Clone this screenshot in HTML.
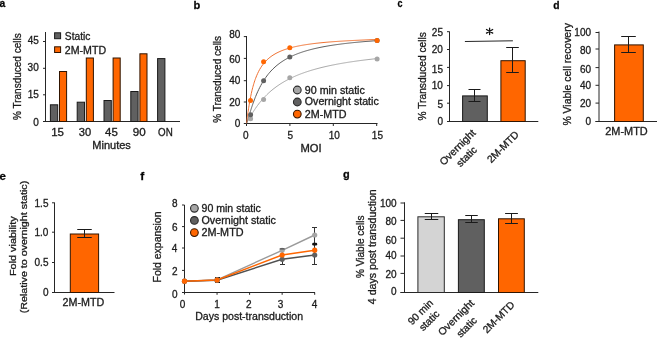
<!DOCTYPE html>
<html><head><meta charset="utf-8"><style>
html,body{margin:0;padding:0;background:#fff;}
svg{display:block;font-family:"Liberation Sans", sans-serif;will-change:transform;color:#1c1c1c;}
text{stroke:currentColor;}
</style></head><body>
<svg width="659" height="338" viewBox="0 0 659 338">
<rect width="659" height="338" fill="#fff"/>
<g stroke-width="0.3">
<text x="-0.55" y="6.70" font-size="11" font-weight="bold" fill="#000" textLength="5.74" lengthAdjust="spacingAndGlyphs">a</text>
<text x="193.62" y="8.90" font-size="11" font-weight="bold" fill="#000" textLength="6.79" lengthAdjust="spacingAndGlyphs">b</text>
<text x="397.40" y="6.90" font-size="11" font-weight="bold" fill="#000" textLength="5.02" lengthAdjust="spacingAndGlyphs">c</text>
<text x="553.23" y="8.90" font-size="11" font-weight="bold" fill="#000" textLength="6.30" lengthAdjust="spacingAndGlyphs">d</text>
<text x="-0.40" y="179.90" font-size="11" font-weight="bold" fill="#000" textLength="6.45" lengthAdjust="spacingAndGlyphs">e</text>
<text x="140.25" y="180.00" font-size="11.6" font-weight="bold" fill="#000" textLength="3.98" lengthAdjust="spacingAndGlyphs">f</text>
<text x="342.90" y="178.00" font-size="11" font-weight="bold" fill="#000" textLength="6.68" lengthAdjust="spacingAndGlyphs">g</text>
<line x1="45.50" y1="32.00" x2="45.50" y2="122.00" stroke="#262626" stroke-width="1"/>
<line x1="43.00" y1="41.50" x2="45.50" y2="41.50" stroke="#262626" stroke-width="1"/>
<text x="27.65" y="44.10" font-size="10" fill="#1c1c1c">45</text>
<line x1="43.00" y1="68.30" x2="45.50" y2="68.30" stroke="#262626" stroke-width="1"/>
<text x="27.62" y="70.60" font-size="10" fill="#1c1c1c">30</text>
<line x1="43.00" y1="94.80" x2="45.50" y2="94.80" stroke="#262626" stroke-width="1"/>
<text x="27.65" y="97.50" font-size="10" fill="#1c1c1c">15</text>
<line x1="43.00" y1="121.50" x2="45.50" y2="121.50" stroke="#262626" stroke-width="1"/>
<text x="33.18" y="126.00" font-size="10" fill="#1c1c1c">0</text>
<line x1="43.00" y1="121.50" x2="180.00" y2="121.50" stroke="#262626" stroke-width="1"/>
<rect x="50.40" y="104.80" width="7.30" height="16.70" fill="#606060" stroke="#1a1a1a" stroke-width="1"/>
<rect x="59.50" y="71.50" width="7.10" height="50.00" fill="#ff6600" stroke="#301400" stroke-width="1"/>
<rect x="77.20" y="102.20" width="7.30" height="19.30" fill="#606060" stroke="#1a1a1a" stroke-width="1"/>
<rect x="86.30" y="58.00" width="7.10" height="63.50" fill="#ff6600" stroke="#301400" stroke-width="1"/>
<rect x="104.00" y="100.50" width="7.30" height="21.00" fill="#606060" stroke="#1a1a1a" stroke-width="1"/>
<rect x="113.10" y="58.00" width="7.10" height="63.50" fill="#ff6600" stroke="#301400" stroke-width="1"/>
<rect x="130.80" y="91.50" width="7.30" height="30.00" fill="#606060" stroke="#1a1a1a" stroke-width="1"/>
<rect x="139.90" y="53.80" width="7.10" height="67.70" fill="#ff6600" stroke="#301400" stroke-width="1"/>
<rect x="157.60" y="58.60" width="7.30" height="62.90" fill="#606060" stroke="#1a1a1a" stroke-width="1"/>
<rect x="54.60" y="32.80" width="6.00" height="5.90" fill="#606060" stroke="#1a1a1a" stroke-width="1"/>
<rect x="54.60" y="46.80" width="6.00" height="5.70" fill="#ff6600" stroke="#301400" stroke-width="1"/>
<text x="64.89" y="39.70" font-size="10" fill="#1c1c1c" textLength="25.53" lengthAdjust="spacingAndGlyphs">Static</text>
<text x="64.82" y="53.70" font-size="10" fill="#1c1c1c" textLength="41.34" lengthAdjust="spacingAndGlyphs">2M-MTD</text>
<text x="51.18" y="135.60" font-size="10" fill="#1c1c1c" textLength="12.76" lengthAdjust="spacingAndGlyphs">15</text>
<text x="78.73" y="135.60" font-size="10" fill="#1c1c1c" textLength="12.36" lengthAdjust="spacingAndGlyphs">30</text>
<text x="105.09" y="135.60" font-size="10" fill="#1c1c1c" textLength="12.74" lengthAdjust="spacingAndGlyphs">45</text>
<text x="132.81" y="135.60" font-size="10" fill="#1c1c1c" textLength="12.90" lengthAdjust="spacingAndGlyphs">90</text>
<text x="158.09" y="135.60" font-size="10" fill="#1c1c1c" textLength="14.66" lengthAdjust="spacingAndGlyphs">ON</text>
<text x="92.25" y="148.70" font-size="10" fill="#1c1c1c" textLength="38.60" lengthAdjust="spacingAndGlyphs">Minutes</text>
<text transform="translate(20.80,119.65) rotate(-90)" x="-0.35" y="0" font-size="10" fill="#1c1c1c" textLength="86.71" lengthAdjust="spacingAndGlyphs">% Transduced cells</text>
<line x1="246.50" y1="36.00" x2="246.50" y2="124.00" stroke="#262626" stroke-width="1"/>
<line x1="243.80" y1="123.50" x2="246.50" y2="123.50" stroke="#262626" stroke-width="1"/>
<text x="234.78" y="126.70" font-size="10" fill="#1c1c1c">0</text>
<line x1="243.80" y1="102.00" x2="246.50" y2="102.00" stroke="#262626" stroke-width="1"/>
<text x="229.22" y="105.80" font-size="10" fill="#1c1c1c">20</text>
<line x1="243.80" y1="80.70" x2="246.50" y2="80.70" stroke="#262626" stroke-width="1"/>
<text x="229.22" y="84.10" font-size="10" fill="#1c1c1c">40</text>
<line x1="243.80" y1="58.40" x2="246.50" y2="58.40" stroke="#262626" stroke-width="1"/>
<text x="229.22" y="62.50" font-size="10" fill="#1c1c1c">60</text>
<line x1="243.80" y1="36.60" x2="246.50" y2="36.60" stroke="#262626" stroke-width="1"/>
<text x="229.22" y="37.80" font-size="10" fill="#1c1c1c">80</text>
<line x1="244.00" y1="123.50" x2="377.50" y2="123.50" stroke="#262626" stroke-width="1"/>
<line x1="246.50" y1="123.50" x2="246.50" y2="126.00" stroke="#262626" stroke-width="1"/>
<text x="245.90" y="139.20" font-size="10" fill="#1c1c1c" text-anchor="middle">0</text>
<line x1="289.90" y1="123.50" x2="289.90" y2="126.00" stroke="#262626" stroke-width="1"/>
<text x="290.40" y="139.20" font-size="10" fill="#1c1c1c" text-anchor="middle">5</text>
<line x1="333.30" y1="123.50" x2="333.30" y2="126.00" stroke="#262626" stroke-width="1"/>
<text x="334.30" y="139.20" font-size="10" fill="#1c1c1c" text-anchor="middle">10</text>
<line x1="376.70" y1="123.50" x2="376.70" y2="126.00" stroke="#262626" stroke-width="1"/>
<text x="377.40" y="139.20" font-size="10" fill="#1c1c1c" text-anchor="middle">15</text>
<text x="300.43" y="152.00" font-size="10" fill="#1c1c1c" textLength="21.15" lengthAdjust="spacingAndGlyphs">MOI</text>
<text transform="translate(221.00,122.45) rotate(-90)" x="-0.36" y="0" font-size="10" fill="#1c1c1c" textLength="86.91" lengthAdjust="spacingAndGlyphs">% Transduced cells</text>
<path d="M246.50,123.20 L246.51,123.19 L246.52,123.17 L246.55,123.13 L246.59,123.07 L246.64,123.00 L246.71,122.90 L246.78,122.78 L246.87,122.64 L246.96,122.47 L247.07,122.29 L247.19,122.08 L247.32,121.86 L247.46,121.61 L247.62,121.34 L247.78,121.04 L247.96,120.73 L248.15,120.40 L248.35,120.04 L248.56,119.67 L248.78,119.27 L249.02,118.86 L249.26,118.43 L249.52,117.97 L249.79,117.51 L250.07,117.02 L250.36,116.52 L250.66,116.00 L250.97,115.47 L251.30,114.92 L251.64,114.36 L251.98,113.78 L252.34,113.20 L252.71,112.60 L253.10,111.99 L253.49,111.37 L253.90,110.74 L254.31,110.10 L254.74,109.46 L255.18,108.80 L255.61,108.17 L256.64,106.71 L257.66,105.31 L258.68,103.96 L259.70,102.65 L260.72,101.39 L261.74,100.18 L262.76,99.01 L263.78,97.88 L264.80,96.79 L265.83,95.74 L266.85,94.72 L267.87,93.74 L268.89,92.79 L269.91,91.87 L270.93,90.98 L271.95,90.12 L272.97,89.29 L274.00,88.49 L275.02,87.71 L276.04,86.95 L277.06,86.22 L278.08,85.51 L279.10,84.82 L280.12,84.15 L281.14,83.50 L282.16,82.86 L283.19,82.25 L284.21,81.65 L285.23,81.07 L286.25,80.51 L287.27,79.96 L288.29,79.43 L289.31,78.91 L290.33,78.40 L291.36,77.91 L292.38,77.42 L293.40,76.96 L294.42,76.50 L295.44,76.05 L296.46,75.62 L297.48,75.19 L298.50,74.78 L299.52,74.38 L300.55,73.98 L301.57,73.60 L302.59,73.22 L303.61,72.85 L304.63,72.49 L305.65,72.14 L306.67,71.80 L307.69,71.46 L308.72,71.13 L309.74,70.81 L310.76,70.49 L311.78,70.18 L312.80,69.88 L313.82,69.59 L314.84,69.30 L315.86,69.01 L316.88,68.73 L317.91,68.46 L318.93,68.19 L319.95,67.93 L320.97,67.67 L321.99,67.42 L323.01,67.17 L324.03,66.93 L325.05,66.69 L326.08,66.46 L327.10,66.23 L328.12,66.01 L329.14,65.78 L330.16,65.57 L331.18,65.35 L332.20,65.14 L333.22,64.94 L334.24,64.74 L335.27,64.54 L336.29,64.34 L337.31,64.15 L338.33,63.96 L339.35,63.77 L340.37,63.59 L341.39,63.41 L342.41,63.24 L343.44,63.06 L344.46,62.89 L345.48,62.72 L346.50,62.56 L347.52,62.39 L348.54,62.23 L349.56,62.07 L350.58,61.92 L351.60,61.77 L352.63,61.61 L353.65,61.47 L354.67,61.32 L355.69,61.18 L356.71,61.03 L357.73,60.89 L358.75,60.76 L359.77,60.62 L360.80,60.48 L361.82,60.35 L362.84,60.22 L363.86,60.09 L364.88,59.97 L365.90,59.84 L366.92,59.72 L367.94,59.60 L368.96,59.48 L369.99,59.36 L371.01,59.24 L372.03,59.13 L373.05,59.01 L374.07,58.90 L375.09,58.79 L376.11,58.68 L377.13,58.58" fill="none" stroke="#a8a8a8" stroke-width="1"/>
<path d="M246.50,123.20 L246.51,123.19 L246.52,123.17 L246.55,123.12 L246.59,123.05 L246.64,122.94 L246.71,122.80 L246.78,122.62 L246.87,122.40 L246.96,122.14 L247.07,121.84 L247.19,121.50 L247.32,121.12 L247.46,120.69 L247.62,120.22 L247.78,119.71 L247.96,119.15 L248.15,118.56 L248.35,117.92 L248.56,117.24 L248.78,116.52 L249.02,115.76 L249.26,114.96 L249.52,114.13 L249.79,113.27 L250.07,112.37 L250.36,111.44 L250.66,110.49 L250.97,109.51 L251.30,108.51 L251.64,107.48 L251.98,106.44 L252.34,105.38 L252.71,104.30 L253.10,103.21 L253.49,102.11 L253.90,101.00 L254.31,99.88 L254.74,98.76 L255.18,97.64 L255.61,96.56 L256.64,94.11 L257.66,91.79 L258.68,89.61 L259.70,87.55 L260.72,85.60 L261.74,83.77 L262.76,82.03 L263.78,80.39 L264.80,78.83 L265.83,77.36 L266.85,75.97 L267.87,74.64 L268.89,73.38 L269.91,72.19 L270.93,71.05 L271.95,69.97 L272.97,68.94 L274.00,67.96 L275.02,67.02 L276.04,66.12 L277.06,65.26 L278.08,64.44 L279.10,63.66 L280.12,62.91 L281.14,62.19 L282.16,61.50 L283.19,60.83 L284.21,60.20 L285.23,59.58 L286.25,59.00 L287.27,58.43 L288.29,57.88 L289.31,57.36 L290.33,56.85 L291.36,56.36 L292.38,55.89 L293.40,55.43 L294.42,54.99 L295.44,54.57 L296.46,54.16 L297.48,53.76 L298.50,53.37 L299.52,53.00 L300.55,52.64 L301.57,52.29 L302.59,51.95 L303.61,51.62 L304.63,51.30 L305.65,50.99 L306.67,50.69 L307.69,50.40 L308.72,50.11 L309.74,49.84 L310.76,49.57 L311.78,49.31 L312.80,49.05 L313.82,48.81 L314.84,48.57 L315.86,48.33 L316.88,48.10 L317.91,47.88 L318.93,47.66 L319.95,47.45 L320.97,47.24 L321.99,47.04 L323.01,46.85 L324.03,46.65 L325.05,46.47 L326.08,46.28 L327.10,46.11 L328.12,45.93 L329.14,45.76 L330.16,45.59 L331.18,45.43 L332.20,45.27 L333.22,45.11 L334.24,44.96 L335.27,44.81 L336.29,44.67 L337.31,44.52 L338.33,44.38 L339.35,44.25 L340.37,44.11 L341.39,43.98 L342.41,43.85 L343.44,43.72 L344.46,43.60 L345.48,43.48 L346.50,43.36 L347.52,43.24 L348.54,43.13 L349.56,43.02 L350.58,42.91 L351.60,42.80 L352.63,42.69 L353.65,42.59 L354.67,42.48 L355.69,42.38 L356.71,42.29 L357.73,42.19 L358.75,42.09 L359.77,42.00 L360.80,41.91 L361.82,41.82 L362.84,41.73 L363.86,41.64 L364.88,41.55 L365.90,41.47 L366.92,41.39 L367.94,41.31 L368.96,41.23 L369.99,41.15 L371.01,41.07 L372.03,40.99 L373.05,40.92 L374.07,40.84 L375.09,40.77 L376.11,40.70 L377.13,40.63" fill="none" stroke="#5a5a5a" stroke-width="1"/>
<path d="M246.50,123.20 L246.51,123.18 L246.52,123.09 L246.55,122.92 L246.59,122.67 L246.64,122.33 L246.71,121.89 L246.78,121.37 L246.87,120.75 L246.96,120.04 L247.07,119.24 L247.19,118.35 L247.32,117.37 L247.46,116.32 L247.62,115.20 L247.78,114.00 L247.96,112.74 L248.15,111.43 L248.35,110.07 L248.56,108.66 L248.78,107.22 L249.02,105.74 L249.26,104.24 L249.52,102.72 L249.79,101.19 L250.07,99.65 L250.36,98.11 L250.66,96.58 L250.97,95.05 L251.30,93.53 L251.64,92.02 L251.98,90.53 L252.34,89.06 L252.71,87.62 L253.10,86.20 L253.49,84.81 L253.90,83.44 L254.31,82.11 L254.74,80.80 L255.18,79.53 L255.61,78.33 L256.64,75.74 L257.66,73.41 L258.68,71.32 L259.70,69.42 L260.72,67.71 L261.74,66.14 L262.76,64.71 L263.78,63.40 L264.80,62.19 L265.83,61.08 L266.85,60.04 L267.87,59.09 L268.89,58.19 L269.91,57.36 L270.93,56.59 L271.95,55.86 L272.97,55.18 L274.00,54.54 L275.02,53.94 L276.04,53.37 L277.06,52.84 L278.08,52.33 L279.10,51.85 L280.12,51.39 L281.14,50.96 L282.16,50.55 L283.19,50.16 L284.21,49.79 L285.23,49.43 L286.25,49.09 L287.27,48.77 L288.29,48.46 L289.31,48.16 L290.33,47.88 L291.36,47.61 L292.38,47.34 L293.40,47.09 L294.42,46.85 L295.44,46.62 L296.46,46.40 L297.48,46.18 L298.50,45.97 L299.52,45.77 L300.55,45.58 L301.57,45.39 L302.59,45.21 L303.61,45.04 L304.63,44.87 L305.65,44.71 L306.67,44.55 L307.69,44.40 L308.72,44.25 L309.74,44.11 L310.76,43.97 L311.78,43.83 L312.80,43.70 L313.82,43.57 L314.84,43.45 L315.86,43.33 L316.88,43.21 L317.91,43.10 L318.93,42.99 L319.95,42.88 L320.97,42.78 L321.99,42.68 L323.01,42.58 L324.03,42.48 L325.05,42.39 L326.08,42.29 L327.10,42.20 L328.12,42.12 L329.14,42.03 L330.16,41.95 L331.18,41.87 L332.20,41.79 L333.22,41.71 L334.24,41.63 L335.27,41.56 L336.29,41.49 L337.31,41.41 L338.33,41.35 L339.35,41.28 L340.37,41.21 L341.39,41.15 L342.41,41.08 L343.44,41.02 L344.46,40.96 L345.48,40.90 L346.50,40.84 L347.52,40.78 L348.54,40.73 L349.56,40.67 L350.58,40.62 L351.60,40.56 L352.63,40.51 L353.65,40.46 L354.67,40.41 L355.69,40.36 L356.71,40.31 L357.73,40.27 L358.75,40.22 L359.77,40.17 L360.80,40.13 L361.82,40.08 L362.84,40.04 L363.86,40.00 L364.88,39.96 L365.90,39.92 L366.92,39.88 L367.94,39.84 L368.96,39.80 L369.99,39.76 L371.01,39.72 L372.03,39.68 L373.05,39.65 L374.07,39.61 L375.09,39.58 L376.11,39.54 L377.13,39.51" fill="none" stroke="#f07030" stroke-width="1"/>
<circle cx="250.60" cy="118.80" r="2.50" fill="#a6a6a6" stroke="none" stroke-width="0"/>
<circle cx="263.60" cy="99.50" r="2.50" fill="#a6a6a6" stroke="none" stroke-width="0"/>
<circle cx="289.80" cy="77.70" r="2.50" fill="#a6a6a6" stroke="none" stroke-width="0"/>
<circle cx="377.10" cy="59.00" r="2.50" fill="#a6a6a6" stroke="none" stroke-width="0"/>
<circle cx="250.60" cy="114.80" r="2.50" fill="#606060" stroke="none" stroke-width="0"/>
<circle cx="263.60" cy="80.70" r="2.50" fill="#606060" stroke="none" stroke-width="0"/>
<circle cx="289.80" cy="57.10" r="2.50" fill="#606060" stroke="none" stroke-width="0"/>
<circle cx="377.10" cy="40.60" r="2.50" fill="#606060" stroke="none" stroke-width="0"/>
<circle cx="250.50" cy="100.40" r="2.50" fill="#ff6600" stroke="none" stroke-width="0"/>
<circle cx="263.60" cy="61.80" r="2.50" fill="#ff6600" stroke="none" stroke-width="0"/>
<circle cx="289.80" cy="47.70" r="2.50" fill="#ff6600" stroke="none" stroke-width="0"/>
<circle cx="377.10" cy="40.40" r="2.50" fill="#ff6600" stroke="none" stroke-width="0"/>
<circle cx="297.30" cy="90.00" r="3.85" fill="#a6a6a6" stroke="#2a2a2a" stroke-width="1.1"/>
<text x="304.85" y="93.80" font-size="10" fill="#1c1c1c" textLength="59.98" lengthAdjust="spacingAndGlyphs">90 min static</text>
<circle cx="297.30" cy="102.00" r="3.85" fill="#606060" stroke="#2a2a2a" stroke-width="1.1"/>
<text x="304.85" y="105.30" font-size="10" fill="#1c1c1c" textLength="73.88" lengthAdjust="spacingAndGlyphs">Overnight static</text>
<circle cx="297.30" cy="114.10" r="3.85" fill="#ff6600" stroke="#3a1800" stroke-width="1.1"/>
<text x="304.81" y="117.80" font-size="10" fill="#1c1c1c" textLength="41.75" lengthAdjust="spacingAndGlyphs">2M-MTD</text>
<line x1="449.50" y1="31.50" x2="449.50" y2="122.00" stroke="#262626" stroke-width="1"/>
<line x1="447.00" y1="31.70" x2="449.50" y2="31.70" stroke="#262626" stroke-width="1"/>
<text x="431.85" y="35.90" font-size="10" fill="#1c1c1c">25</text>
<line x1="447.00" y1="49.50" x2="449.50" y2="49.50" stroke="#262626" stroke-width="1"/>
<text x="431.82" y="52.90" font-size="10" fill="#1c1c1c">20</text>
<line x1="447.00" y1="67.40" x2="449.50" y2="67.40" stroke="#262626" stroke-width="1"/>
<text x="431.85" y="72.80" font-size="10" fill="#1c1c1c">15</text>
<line x1="447.00" y1="85.60" x2="449.50" y2="85.60" stroke="#262626" stroke-width="1"/>
<text x="431.82" y="89.40" font-size="10" fill="#1c1c1c">10</text>
<line x1="447.00" y1="103.20" x2="449.50" y2="103.20" stroke="#262626" stroke-width="1"/>
<text x="437.41" y="108.00" font-size="10" fill="#1c1c1c">5</text>
<line x1="447.00" y1="121.50" x2="449.50" y2="121.50" stroke="#262626" stroke-width="1"/>
<text x="437.38" y="125.20" font-size="10" fill="#1c1c1c">0</text>
<line x1="447.00" y1="121.50" x2="538.30" y2="121.50" stroke="#262626" stroke-width="1"/>
<rect x="462.60" y="95.90" width="24.70" height="25.60" fill="#606060" stroke="#1a1a1a" stroke-width="1"/>
<rect x="500.90" y="60.70" width="24.30" height="60.80" fill="#ff6600" stroke="#301400" stroke-width="1"/>
<line x1="474.50" y1="89.50" x2="474.50" y2="101.50" stroke="#1a1a1a" stroke-width="1"/>
<line x1="468.50" y1="89.50" x2="480.50" y2="89.50" stroke="#1a1a1a" stroke-width="1"/>
<line x1="468.50" y1="101.50" x2="480.50" y2="101.50" stroke="#1a1a1a" stroke-width="1"/>
<line x1="512.50" y1="47.50" x2="512.50" y2="72.50" stroke="#1a1a1a" stroke-width="1"/>
<line x1="506.20" y1="47.50" x2="518.80" y2="47.50" stroke="#1a1a1a" stroke-width="1"/>
<line x1="506.20" y1="72.50" x2="518.80" y2="72.50" stroke="#1a1a1a" stroke-width="1"/>
<line x1="464.90" y1="41.50" x2="512.90" y2="40.80" stroke="#262626" stroke-width="1"/>
<path d="M489.6,28.1 L489.6,34.5 M486.5,29.5 L492.7,33.1 M486.5,33.1 L492.7,29.5" stroke="#111" stroke-width="1.25" stroke-linecap="round" fill="none"/>
<text transform="translate(425.50,120.05) rotate(-90)" x="-0.36" y="0" font-size="10" fill="#1c1c1c" textLength="88.23" lengthAdjust="spacingAndGlyphs">% Transduced cells</text>
<text transform="translate(459.98,149.83) rotate(-45)" x="0" y="0" font-size="10.3" fill="#1c1c1c" text-anchor="middle" textLength="45.99" lengthAdjust="spacingAndGlyphs">Overnight</text>
<text transform="translate(469.05,159.01) rotate(-45)" x="0" y="0" font-size="10.3" fill="#1c1c1c" text-anchor="middle">static</text>
<text transform="translate(505.43,149.45) rotate(-45)" x="0" y="0" font-size="10.3" fill="#1c1c1c" text-anchor="middle">2M-MTD</text>
<line x1="599.00" y1="31.50" x2="599.00" y2="122.00" stroke="#262626" stroke-width="1"/>
<line x1="595.50" y1="32.50" x2="599.00" y2="32.50" stroke="#262626" stroke-width="1"/>
<text x="574.36" y="36.20" font-size="10" fill="#1c1c1c">100</text>
<line x1="595.50" y1="49.00" x2="599.00" y2="49.00" stroke="#262626" stroke-width="1"/>
<text x="579.92" y="53.60" font-size="10" fill="#1c1c1c">80</text>
<line x1="595.50" y1="67.60" x2="599.00" y2="67.60" stroke="#262626" stroke-width="1"/>
<text x="579.92" y="73.20" font-size="10" fill="#1c1c1c">60</text>
<line x1="595.50" y1="85.30" x2="599.00" y2="85.30" stroke="#262626" stroke-width="1"/>
<text x="579.92" y="89.10" font-size="10" fill="#1c1c1c">40</text>
<line x1="595.50" y1="103.10" x2="599.00" y2="103.10" stroke="#262626" stroke-width="1"/>
<text x="579.92" y="106.80" font-size="10" fill="#1c1c1c">20</text>
<line x1="595.50" y1="121.50" x2="599.00" y2="121.50" stroke="#262626" stroke-width="1"/>
<text x="585.48" y="124.90" font-size="10" fill="#1c1c1c">0</text>
<line x1="595.50" y1="121.50" x2="657.00" y2="121.50" stroke="#262626" stroke-width="1"/>
<rect x="614.60" y="44.90" width="28.70" height="76.60" fill="#ff6600" stroke="#301400" stroke-width="1"/>
<line x1="628.50" y1="36.50" x2="628.50" y2="52.50" stroke="#1a1a1a" stroke-width="1"/>
<line x1="621.20" y1="36.50" x2="635.80" y2="36.50" stroke="#1a1a1a" stroke-width="1"/>
<line x1="621.20" y1="52.50" x2="635.80" y2="52.50" stroke="#1a1a1a" stroke-width="1"/>
<text x="605.30" y="134.80" font-size="10" fill="#1c1c1c" textLength="42.47" lengthAdjust="spacingAndGlyphs">2M-MTD</text>
<text transform="translate(570.50,125.25) rotate(-90)" x="-0.37" y="0" font-size="10" fill="#1c1c1c" textLength="102.49" lengthAdjust="spacingAndGlyphs">% Viable cell recovery</text>
<line x1="54.50" y1="202.50" x2="54.50" y2="293.00" stroke="#262626" stroke-width="1"/>
<line x1="52.00" y1="202.80" x2="54.50" y2="202.80" stroke="#262626" stroke-width="1"/>
<text x="34.57" y="207.10" font-size="10" fill="#1c1c1c">1.5</text>
<line x1="52.00" y1="232.20" x2="54.50" y2="232.20" stroke="#262626" stroke-width="1"/>
<text x="34.54" y="235.60" font-size="10" fill="#1c1c1c">1.0</text>
<line x1="52.00" y1="262.50" x2="54.50" y2="262.50" stroke="#262626" stroke-width="1"/>
<text x="34.57" y="266.40" font-size="10" fill="#1c1c1c">0.5</text>
<line x1="52.00" y1="292.50" x2="54.50" y2="292.50" stroke="#262626" stroke-width="1"/>
<text x="42.88" y="295.50" font-size="10" fill="#1c1c1c">0</text>
<line x1="52.00" y1="292.50" x2="114.50" y2="292.50" stroke="#262626" stroke-width="1"/>
<rect x="70.30" y="234.00" width="28.30" height="58.50" fill="#ff6600" stroke="#301400" stroke-width="1"/>
<line x1="84.50" y1="229.50" x2="84.50" y2="237.50" stroke="#1a1a1a" stroke-width="1"/>
<line x1="77.25" y1="229.50" x2="91.75" y2="229.50" stroke="#1a1a1a" stroke-width="1"/>
<line x1="77.25" y1="237.50" x2="91.75" y2="237.50" stroke="#1a1a1a" stroke-width="1"/>
<text x="62.61" y="305.60" font-size="10" fill="#1c1c1c" textLength="41.75" lengthAdjust="spacingAndGlyphs">2M-MTD</text>
<text transform="translate(15.50,275.15) rotate(-90)" x="-0.89" y="0" font-size="9.5" fill="#1c1c1c" textLength="59.71" lengthAdjust="spacingAndGlyphs">Fold viability</text>
<text transform="translate(27.00,312.65) rotate(-90)" x="-0.66" y="0" font-size="9.5" fill="#1c1c1c" textLength="132.53" lengthAdjust="spacingAndGlyphs">(Relative to overnight static)</text>
<line x1="184.50" y1="205.00" x2="184.50" y2="294.50" stroke="#262626" stroke-width="1"/>
<line x1="182.00" y1="205.00" x2="184.50" y2="205.00" stroke="#262626" stroke-width="1"/>
<text x="171.92" y="206.80" font-size="10" fill="#1c1c1c">8</text>
<line x1="182.00" y1="226.60" x2="184.50" y2="226.60" stroke="#262626" stroke-width="1"/>
<text x="171.93" y="231.00" font-size="10" fill="#1c1c1c">6</text>
<line x1="182.00" y1="248.00" x2="184.50" y2="248.00" stroke="#262626" stroke-width="1"/>
<text x="171.78" y="251.70" font-size="10" fill="#1c1c1c">4</text>
<line x1="182.00" y1="270.40" x2="184.50" y2="270.40" stroke="#262626" stroke-width="1"/>
<text x="171.99" y="274.80" font-size="10" fill="#1c1c1c">2</text>
<line x1="182.00" y1="292.50" x2="184.50" y2="292.50" stroke="#262626" stroke-width="1"/>
<text x="171.88" y="297.90" font-size="10" fill="#1c1c1c">0</text>
<line x1="184.00" y1="292.50" x2="315.00" y2="292.50" stroke="#262626" stroke-width="1"/>
<line x1="217.05" y1="292.50" x2="217.05" y2="294.80" stroke="#262626" stroke-width="1"/>
<line x1="249.60" y1="292.50" x2="249.60" y2="294.80" stroke="#262626" stroke-width="1"/>
<line x1="282.15" y1="292.50" x2="282.15" y2="294.80" stroke="#262626" stroke-width="1"/>
<line x1="314.70" y1="292.50" x2="314.70" y2="294.80" stroke="#262626" stroke-width="1"/>
<text x="182.50" y="307.80" font-size="10" fill="#1c1c1c" text-anchor="middle">0</text>
<text x="217.00" y="307.80" font-size="10" fill="#1c1c1c" text-anchor="middle">1</text>
<text x="248.90" y="307.80" font-size="10" fill="#1c1c1c" text-anchor="middle">2</text>
<text x="280.60" y="307.80" font-size="10" fill="#1c1c1c" text-anchor="middle">3</text>
<text x="314.60" y="307.80" font-size="10" fill="#1c1c1c" text-anchor="middle">4</text>
<text x="195.18" y="319.60" font-size="10" fill="#1c1c1c" textLength="107.95" lengthAdjust="spacingAndGlyphs">Days post-transduction</text>
<text transform="translate(161.30,281.65) rotate(-90)" x="-0.86" y="0" font-size="10" fill="#1c1c1c" textLength="71.04" lengthAdjust="spacingAndGlyphs">Fold expansion</text>
<line x1="282.50" y1="249.50" x2="282.50" y2="264.50" stroke="#333" stroke-width="1"/>
<line x1="280.00" y1="249.50" x2="285.00" y2="249.50" stroke="#333" stroke-width="1"/>
<line x1="280.00" y1="264.50" x2="285.00" y2="264.50" stroke="#333" stroke-width="1"/>
<line x1="314.50" y1="227.50" x2="314.50" y2="264.50" stroke="#333" stroke-width="1"/>
<line x1="312.00" y1="227.50" x2="317.00" y2="227.50" stroke="#333" stroke-width="1"/>
<line x1="312.00" y1="264.50" x2="317.00" y2="264.50" stroke="#333" stroke-width="1"/>
<line x1="217.50" y1="277.50" x2="217.50" y2="282.50" stroke="#111" stroke-width="1"/>
<line x1="215.00" y1="277.50" x2="220.00" y2="277.50" stroke="#111" stroke-width="1"/>
<line x1="215.00" y1="282.50" x2="220.00" y2="282.50" stroke="#111" stroke-width="1"/>
<rect x="312.20" y="242.8" width="5" height="2.6" rx="1.2" fill="#111"/>
<path d="M184.50,281.20 L217.05,279.90 L282.15,250.30 L314.70,235.00" fill="none" stroke="#9a9a9a" stroke-width="1.4"/>
<path d="M184.50,281.20 L217.05,280.20 L282.15,259.30 L314.70,255.00" fill="none" stroke="#505050" stroke-width="1.4"/>
<path d="M184.50,281.20 L217.05,280.00 L282.15,255.00 L314.70,250.20" fill="none" stroke="#ff6600" stroke-width="1.4"/>
<circle cx="184.50" cy="281.20" r="2.60" fill="#a6a6a6" stroke="none" stroke-width="0"/>
<circle cx="217.05" cy="279.90" r="2.60" fill="#a6a6a6" stroke="none" stroke-width="0"/>
<circle cx="282.15" cy="250.30" r="2.60" fill="#a6a6a6" stroke="none" stroke-width="0"/>
<circle cx="314.70" cy="235.00" r="2.60" fill="#a6a6a6" stroke="none" stroke-width="0"/>
<circle cx="184.50" cy="281.20" r="2.60" fill="#606060" stroke="none" stroke-width="0"/>
<circle cx="217.05" cy="280.20" r="2.60" fill="#606060" stroke="none" stroke-width="0"/>
<circle cx="282.15" cy="259.30" r="2.60" fill="#606060" stroke="none" stroke-width="0"/>
<circle cx="314.70" cy="255.00" r="2.60" fill="#606060" stroke="none" stroke-width="0"/>
<circle cx="184.50" cy="281.20" r="2.60" fill="#ff6600" stroke="none" stroke-width="0"/>
<circle cx="217.05" cy="280.00" r="2.60" fill="#ff6600" stroke="none" stroke-width="0"/>
<circle cx="282.15" cy="255.00" r="2.60" fill="#ff6600" stroke="none" stroke-width="0"/>
<circle cx="314.70" cy="250.20" r="2.60" fill="#ff6600" stroke="none" stroke-width="0"/>
<line x1="279.65" y1="248.90" x2="284.65" y2="248.90" stroke="#333" stroke-width="1"/>
<circle cx="194.40" cy="208.30" r="3.85" fill="#a6a6a6" stroke="#2a2a2a" stroke-width="1.1"/>
<text x="201.56" y="211.80" font-size="10" fill="#1c1c1c" textLength="59.27" lengthAdjust="spacingAndGlyphs">90 min static</text>
<circle cx="194.40" cy="220.45" r="3.85" fill="#606060" stroke="#2a2a2a" stroke-width="1.1"/>
<text x="201.54" y="223.90" font-size="10" fill="#1c1c1c" textLength="74.39" lengthAdjust="spacingAndGlyphs">Overnight static</text>
<circle cx="194.40" cy="232.60" r="3.85" fill="#ff6600" stroke="#3a1800" stroke-width="1.1"/>
<text x="201.51" y="236.00" font-size="10" fill="#1c1c1c" textLength="42.06" lengthAdjust="spacingAndGlyphs">2M-MTD</text>
<line x1="404.50" y1="202.30" x2="404.50" y2="292.50" stroke="#262626" stroke-width="1"/>
<line x1="400.50" y1="203.00" x2="404.50" y2="203.00" stroke="#262626" stroke-width="1"/>
<text x="379.96" y="206.70" font-size="10" fill="#1c1c1c">100</text>
<line x1="400.50" y1="220.40" x2="404.50" y2="220.40" stroke="#262626" stroke-width="1"/>
<text x="385.52" y="224.50" font-size="10" fill="#1c1c1c">80</text>
<line x1="400.50" y1="238.20" x2="404.50" y2="238.20" stroke="#262626" stroke-width="1"/>
<text x="385.52" y="243.50" font-size="10" fill="#1c1c1c">60</text>
<line x1="400.50" y1="256.00" x2="404.50" y2="256.00" stroke="#262626" stroke-width="1"/>
<text x="385.52" y="259.40" font-size="10" fill="#1c1c1c">40</text>
<line x1="400.50" y1="273.40" x2="404.50" y2="273.40" stroke="#262626" stroke-width="1"/>
<text x="385.52" y="277.50" font-size="10" fill="#1c1c1c">20</text>
<line x1="400.50" y1="292.50" x2="404.50" y2="292.50" stroke="#262626" stroke-width="1"/>
<text x="391.08" y="295.30" font-size="10" fill="#1c1c1c">0</text>
<line x1="400.50" y1="292.50" x2="538.30" y2="292.50" stroke="#262626" stroke-width="1"/>
<rect x="417.90" y="216.80" width="26.40" height="75.70" fill="#d4d4d4" stroke="#2a2a2a" stroke-width="1"/>
<rect x="458.40" y="219.70" width="25.90" height="72.80" fill="#606060" stroke="#1a1a1a" stroke-width="1"/>
<rect x="498.50" y="218.80" width="25.80" height="73.70" fill="#ff6600" stroke="#301400" stroke-width="1"/>
<line x1="431.50" y1="213.50" x2="431.50" y2="219.50" stroke="#1a1a1a" stroke-width="1"/>
<line x1="424.75" y1="213.50" x2="438.25" y2="213.50" stroke="#1a1a1a" stroke-width="1"/>
<line x1="424.75" y1="219.50" x2="438.25" y2="219.50" stroke="#1a1a1a" stroke-width="1"/>
<line x1="471.50" y1="215.50" x2="471.50" y2="222.50" stroke="#1a1a1a" stroke-width="1"/>
<line x1="465.25" y1="215.50" x2="477.75" y2="215.50" stroke="#1a1a1a" stroke-width="1"/>
<line x1="465.25" y1="222.50" x2="477.75" y2="222.50" stroke="#1a1a1a" stroke-width="1"/>
<line x1="511.50" y1="213.50" x2="511.50" y2="223.50" stroke="#1a1a1a" stroke-width="1"/>
<line x1="505.10" y1="213.50" x2="517.90" y2="213.50" stroke="#1a1a1a" stroke-width="1"/>
<line x1="505.10" y1="223.50" x2="517.90" y2="223.50" stroke="#1a1a1a" stroke-width="1"/>
<text transform="translate(364.00,277.65) rotate(-90)" x="-0.36" y="0" font-size="10" fill="#1c1c1c" textLength="62.42" lengthAdjust="spacingAndGlyphs">% Viable cells</text>
<text transform="translate(376.00,303.95) rotate(-90)" x="-0.24" y="0" font-size="10" fill="#1c1c1c" textLength="114.93" lengthAdjust="spacingAndGlyphs">4 days post transduction</text>
<text transform="translate(422.87,314.64) rotate(-45)" x="0" y="0" font-size="10.3" fill="#1c1c1c" text-anchor="middle">90 min</text>
<text transform="translate(431.70,323.11) rotate(-45)" x="0" y="0" font-size="10.3" fill="#1c1c1c" text-anchor="middle">static</text>
<text transform="translate(458.48,320.08) rotate(-45)" x="0" y="0" font-size="10.3" fill="#1c1c1c" text-anchor="middle" textLength="45.99" lengthAdjust="spacingAndGlyphs">Overnight</text>
<text transform="translate(469.15,329.56) rotate(-45)" x="0" y="0" font-size="10.3" fill="#1c1c1c" text-anchor="middle">static</text>
<text transform="translate(501.13,319.60) rotate(-45)" x="0" y="0" font-size="10.3" fill="#1c1c1c" text-anchor="middle">2M-MTD</text>
</g>
</svg>
</body></html>
